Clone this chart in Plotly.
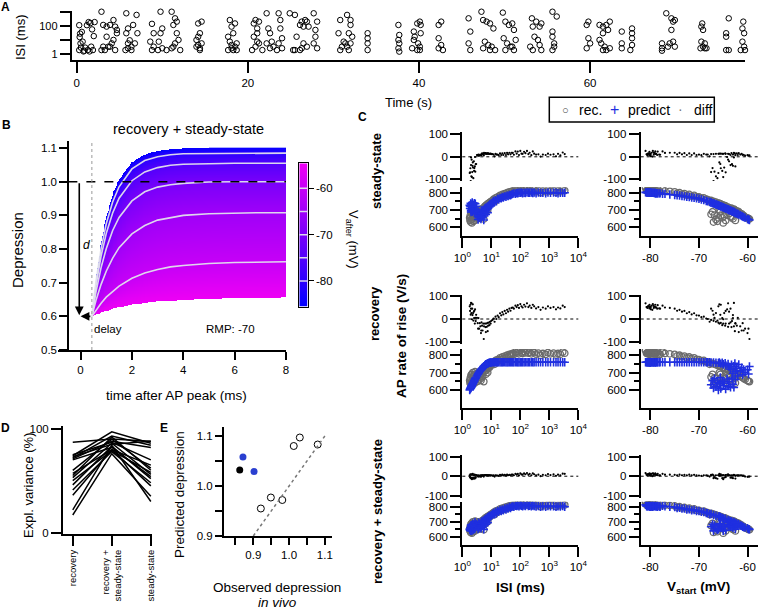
import numpy as np
import plotly.graph_objects as go

# ======================= DATA =======================
# Panel A: spike times (s) and preceding inter-spike interval (ms)
a_time_s = [
    0.1, 0.3, 0.4, 0.35, 0.45, 0.5, 0.3, 0.8, 1.0, 1.2, 1.4, 1.6, 1.8, 2.0, 2.1, 1.9, 1.7, 1.3, 0.7, 0.9, 1.5, 0.6,
    2.9, 3.1, 3.5, 3.9, 4.3, 4.5, 4.7, 4.7, 4.3, 4.1, 3.7, 3.3, 2.9, 3.5, 3.9, 4.5, 3.1,
    5.8, 6.0, 5.8, 6.2, 6.0, 6.4, 6.6, 7.0, 6.8, 7.1, 6.0, 6.4, 5.7,
    8.5, 8.8, 9.0, 8.6, 9.0, 8.8, 9.8, 10.0, 9.8, 9.6, 10.0, 11.1, 11.3, 11.5, 11.7, 11.7, 11.5, 11.9, 11.3, 12.1, 11.1, 10.5, 9.5,
    13.9, 14.2, 14.4, 14.0, 14.2, 14.4, 14.6, 14.4, 14.0, 14.6, 14.2,
    17.7, 17.9, 18.1, 18.3, 17.7, 17.9, 18.1, 18.5, 18.3, 17.7, 18.7, 18.5, 18.1, 18.7,
    20.3, 20.7, 20.9, 21.1, 21.3, 20.7, 21.1, 20.9, 21.3, 20.5, 21.7, 21.1,
    22.2, 22.4, 22.6, 22.2, 22.6, 23.6, 23.8, 23.8, 24.0, 23.6, 24.0, 23.4, 22.8, 23.0,
    24.9, 25.5, 25.7, 25.5, 26.1, 26.3, 26.5, 26.7, 26.9, 27.1, 26.5, 26.3, 26.1, 26.9, 27.7, 27.9, 28.1, 27.9, 27.7, 28.1, 25.3,
    30.4, 30.6, 30.8, 31.2, 31.0, 31.6, 32.0, 32.0, 31.8, 32.2, 31.4, 31.8, 30.8, 31.6, 32.0,
    34.0, 34.0, 34.0, 34.0, 34.0,
    37.6, 37.6, 37.7, 37.6, 37.7, 37.6, 37.7,
    39.2, 39.4, 39.8, 40.1, 40.2, 39.5, 39.9, 40.1, 39.2, 40.1, 39.8, 40.2, 39.4,
    42.3, 42.3, 42.6, 42.3, 42.6, 42.3, 42.8,
    45.5, 45.8, 46.0, 45.8, 46.0,
    47.3, 47.5, 47.9, 48.3, 48.7, 47.7, 48.1, 48.5, 48.9, 48.3, 47.5,
    49.8, 50.1, 50.5, 50.9, 51.1, 49.9, 50.3, 50.7, 50.1, 51.1, 51.3, 50.9,
    52.9, 53.2, 53.3, 53.7, 54.1, 54.3, 53.0, 53.3, 53.9, 54.1, 54.3, 53.5,
    55.6, 56.1, 55.6, 55.6, 55.8, 55.6, 55.8,
    58.3, 59.6, 59.8, 59.6, 59.8, 60.0, 59.6, 61.1,
    61.1, 61.5, 61.9, 62.1, 61.5, 61.1, 61.3, 61.7, 61.9, 62.3, 61.5, 62.3,
    63.7, 63.7, 63.7, 63.7, 64.9, 64.9, 64.9, 64.9, 64.9, 64.7,
    68.4, 68.9, 69.5, 69.7, 69.9, 69.5, 68.4, 68.4, 68.4, 69.3, 69.7, 69.9, 69.1,
    72.9, 73.1, 73.0, 73.2, 73.0, 73.2, 73.4, 72.9, 73.6, 73.4,
    75.8, 76.2, 75.9, 75.9, 75.9, 76.2,
    77.7, 77.9, 77.8, 78.0, 77.8, 78.0, 77.6, 78.1,
]
a_isi_ms = [
    3300, 120, 30, 17, 6, 3, 2, 1.6, 3, 120, 200, 170, 60, 20, 200, 2, 3.5, 2, 8, 1.8, 1.6, 40,
    1100, 125, 95, 125, 280, 95, 55, 32, 10.6, 6, 3.5, 2, 2, 18, 3.5, 2, 3.5,
    850, 70, 32, 10, 2.7, 3.5, 125, 650, 6, 32, 6, 2, 2,
    1500, 150, 32, 8, 3.5, 2, 1100, 70, 32, 8, 2.7, 1100, 125, 370, 215, 32, 6, 10.6, 3.5, 2, 2.7, 2, 2,
    1900, 160, 32, 10.6, 4.6, 2.7, 215, 2, 3.5, 6, 18,
    3300, 280, 95, 32, 18, 8, 4.6, 3.5, 2, 2, 6, 160, 2.7, 2,
    1900, 160, 280, 70, 215, 18, 8, 3.5, 6, 2, 2, 32,
    850, 70, 32, 6, 2.7, 850, 280, 70, 14, 6, 2.7, 2, 8, 3.5,
    850, 650, 18, 2, 125, 215, 95, 280, 215, 95, 6, 2.7, 2, 3.5, 850, 55, 215, 18, 6, 2.7, 2,
    2500, 32, 280, 8, 3.5, 3.5, 280, 125, 32, 18, 6, 2, 2, 650, 6,
    1900, 32, 14, 6, 2,
    3500, 125, 24, 10.6, 6, 2.7, 1.55,
    1500, 42, 160, 215, 125, 18, 6, 3.5, 2.7, 2, 2, 32, 10.6,
    2200, 125, 215, 14, 4.6, 2.7, 2,
    3000, 370, 42, 6, 2,
    1100, 280, 215, 160, 70, 8, 4.6, 3.5, 2, 2, 2.7,
    950, 215, 125, 160, 55, 14, 6, 3.5, 2, 2, 10.6, 3.5,
    1900, 370, 95, 215, 95, 160, 3.5, 2, 10.6, 4.6, 2, 18,
    1100, 500, 42, 18, 6, 2, 3.5,
    2500, 1500, 215, 125, 14, 6, 2.7, 1500,
    125, 95, 125, 55, 32, 10.6, 6, 3.5, 2, 2.7, 2, 215,
    1500, 42, 6, 2.7, 1500, 70, 32, 14, 4.6, 2,
    3500, 850, 370, 215, 280, 55, 6, 2.7, 1.8, 6, 8, 3.5, 3.5,
    3300, 160, 95, 55, 8, 3.5, 2.7, 2.7, 2.7, 6,
    2500, 370, 32, 18, 2, 2,
    1500, 215, 70, 32, 8, 3.5, 2, 2,
]

# Panel B: depression after an AP for several V_after levels (model curves)
b_time_ms = [0.44, 0.6, 0.8, 1.0, 1.25, 1.5, 2.0, 2.5, 3.0, 3.5, 4.0, 5.0, 6.0, 7.0, 8.0]
b_vafter_mv = [-85, -80, -75, -70, -65, -60, -55]
b_depr_m85 = [0.6, 0.712, 0.818, 0.895, 0.962, 1.007, 1.058, 1.081, 1.092, 1.096, 1.098, 1.1, 1.1, 1.1, 1.1]
b_depr_m80 = [0.6, 0.703, 0.802, 0.875, 0.940, 0.985, 1.038, 1.063, 1.074, 1.080, 1.083, 1.084, 1.085, 1.085, 1.085]
b_depr_m75 = [0.6, 0.691, 0.779, 0.846, 0.907, 0.951, 1.003, 1.029, 1.042, 1.049, 1.052, 1.054, 1.055, 1.055, 1.055]
b_depr_m70 = [0.6, 0.672, 0.745, 0.801, 0.855, 0.894, 0.943, 0.970, 0.984, 0.991, 0.995, 0.999, 1.0, 1.0, 1.0]
b_depr_m65 = [0.6, 0.647, 0.695, 0.734, 0.773, 0.804, 0.845, 0.870, 0.886, 0.894, 0.900, 0.905, 0.907, 0.908, 0.908]
b_depr_m60 = [0.6, 0.619, 0.639, 0.657, 0.675, 0.690, 0.713, 0.729, 0.739, 0.747, 0.751, 0.757, 0.760, 0.761, 0.762]
b_depr_m55 = [0.6, 0.605, 0.611, 0.616, 0.622, 0.627, 0.634, 0.640, 0.644, 0.647, 0.649, 0.652, 0.653, 0.654, 0.655]
b_white_levels = [-80, -75, -70, -65, -60]
b_delay_ms = 0.44
b_colorbar_range = [-85.55, -54.6]

# Panel C: recorded AP rate of rise and model predictions (V/s)
c_isi_ms = [
    1.8, 1.85, 1.9, 1.95, 2.0, 2.05, 2.1, 2.15, 2.2, 2.25, 2.3, 2.35, 2.4, 2.5, 2.55, 2.6, 2.7, 2.75, 2.8, 2.9, 3.0, 2.0,
    3.2, 3.4, 3.6, 3.8, 4.0, 4.2, 4.4, 4.6, 4.8, 5.0, 5.3, 5.6, 6.0, 6.3, 6.6, 7.0, 7.4, 7.8, 8.2, 8.6, 9.0, 9.5, 10.0, 3.5, 4.5, 5.5, 6.5, 7.5,
    11, 12, 13, 14, 15, 16.5, 18, 20, 22, 24, 26, 29, 32, 35, 38, 42, 46, 50,
    55, 60, 68, 75, 82, 90, 100, 110, 120, 135, 150, 170, 190, 210, 240, 270, 300, 350, 420, 500, 600, 750, 900, 1100, 1400, 1700, 2000, 2400, 2900, 3400,
]
c_vstart_mv = [
    -66.0, -64.5, -65.5, -67.0, -63.5, -66.5, -64.0, -65.0, -67.5, -63.0, -65.8, -64.8, -66.2, -63.8, -65.2, -67.2, -62.5, -64.2, -66.8, -63.2, -65.6, -62.8,
    -62.0, -61.0, -63.0, -60.5, -62.5, -61.5, -60.0, -63.5, -62.2, -61.2, -63.8, -62.8, -64.5, -63.3, -65.0, -64.0, -65.5, -64.6, -66.0, -65.2, -66.5, -65.8, -67.0, -59.8, -60.8, -59.6, -61.8, -62.6,
    -67.5, -68.5, -67.8, -69.0, -68.2, -70.0, -69.5, -71.0, -70.5, -72.0, -71.5, -73.0, -72.5, -74.0, -73.5, -75.0, -74.5, -76.0,
    -77.0, -78.0, -77.5, -79.0, -78.5, -80.0, -79.5, -80.5, -78.8, -80.2, -79.2, -81.0, -80.0, -79.8, -80.6, -79.0, -80.3, -78.2, -80.8, -79.6, -80.1, -78.6, -80.4, -79.3, -80.7, -79.9, -78.9, -80.2, -79.4, -80.0,
]
c_rec = [
    655, 640, 670, 630, 660, 645, 690, 625, 675, 650, 700, 665, 635, 680, 655, 690, 640, 705, 670, 660, 690, 685,
    685, 670, 700, 660, 690, 680, 655, 705, 695, 678, 712, 705, 722, 710, 728, 716, 735, 725, 740, 730, 745, 738, 750, 650, 668, 648, 690, 700,
    755, 762, 748, 770, 760, 775, 768, 785, 776, 790, 780, 795, 785, 800, 792, 805, 796, 808,
    810, 805, 818, 812, 820, 808, 825, 815, 810, 822, 814, 828, 812, 818, 808, 822, 815, 806, 812, 800, 810, 805, 815, 808, 812, 802, 810, 806, 818, 812,
]
c_pred_ss = [
    727, 709, 721, 738, 697, 732, 703, 715, 743, 690, 725, 713, 730, 700, 718, 740, 683, 706, 736, 693, 722, 688,
    677, 662, 690, 655, 683, 670, 648, 697, 680, 665, 700, 688, 709, 694, 715, 703, 721, 710, 727, 717, 732, 724, 738, 645, 659, 642, 674, 685,
    743, 752, 746, 757, 750, 765, 761, 770, 768, 775, 772, 779, 777, 783, 781, 787, 785, 790,
    793, 796, 794, 798, 797, 800, 799, 801, 797, 800, 798, 802, 800, 800, 801, 798, 801, 796, 801, 799, 800, 797, 801, 799, 801, 800, 797, 800, 799, 800,
]
c_pred_rec = [
    600, 605, 608, 611, 615, 619, 622, 626, 630, 633, 636, 639, 642, 648, 651, 654, 660, 663, 665, 669, 672, 615,
    680, 688, 696, 702, 708, 712, 716, 720, 724, 728, 732, 737, 742, 745, 748, 750, 752, 754, 756, 757, 757, 758, 758, 692, 718, 735, 747, 753,
    759, 760, 760, 760, 760, 760, 760, 760, 760, 760, 760, 760, 760, 760, 760, 760, 760, 760,
    760, 760, 760, 760, 760, 760, 760, 760, 760, 760, 760, 760, 760, 760, 760, 760, 760, 760, 760, 760, 760, 760, 760, 760, 760, 760, 760, 760, 760, 760,
]
c_pred_both = [
    650, 645, 660, 640, 668, 655, 680, 640, 668, 660, 688, 672, 648, 675, 665, 682, 652, 698, 676, 668, 684, 678,
    680, 668, 695, 662, 688, 676, 658, 702, 690, 674, 708, 700, 716, 705, 722, 712, 730, 720, 735, 726, 740, 735, 745, 652, 665, 650, 685, 695,
    752, 758, 750, 765, 757, 772, 766, 778, 772, 782, 776, 788, 781, 792, 787, 798, 791, 800,
    802, 800, 806, 804, 808, 803, 810, 806, 802, 808, 804, 812, 805, 806, 803, 808, 805, 801, 804, 800, 803, 800, 804, 802, 803, 800, 802, 801, 805, 800,
]
c_row_names = ["steady-state", "recovery", "recovery + steady-state"]

# Panel D: explained variance (%) per cell for three models
d_models = ["recovery", "recovery +<br>steady-state", "steady-state"]
d_recovery = [87, 74, 72, 71, 73, 57, 55, 53, 46, 41, 36, 22, 17, 70, 60, 50, 75]
d_rec_ss = [90, 97, 93, 88, 85, 80, 92, 86, 83, 78, 80, 84, 76, 82, 90, 79, 87]
d_steady = [88, 86, 84, 82, 88, 65, 60, 56, 52, 48, 45, 30, 35, 54, 62, 58, 70]

# Panel E: observed vs predicted depression
e_obs_open = [0.921, 0.949, 0.981, 1.013, 1.030, 1.080]
e_pred_open = [0.955, 0.977, 0.972, 1.080, 1.097, 1.083]
e_obs_black = [0.862]
e_pred_black = [1.032]
e_obs_blue = [0.871, 0.902]
e_pred_blue = [1.058, 1.029]

# ======================= HELPERS =======================
W, H = 758, 610
FONT = "Liberation Sans, Arial, sans-serif"


def fx(px):
    return px / W


def fy(py):
    return 1 - py / H


BASE = dict(showgrid=False, zeroline=False, showline=True, linecolor="black", linewidth=2,
            ticks="outside", tickcolor="black", tickwidth=2, ticklen=8, automargin=False,
            tickfont=dict(size=11.5, color="black", family=FONT), layer="above traces")


def axis(**kw):
    d = dict(BASE)
    d.update(kw)
    return d


def ann(text, px, py, size=13, angle=0, bold=False, xanchor="center", yanchor="middle", color="black"):
    if bold:
        text = "<b>" + text + "</b>"
    return dict(text=text, x=fx(px), y=fy(py), xref="paper", yref="paper", showarrow=False,
                textangle=angle, font=dict(size=size, color=color, family=FONT),
                xanchor=xanchor, yanchor=yanchor)


fig = go.Figure()
layout = {}
shapes = []
annotations = []
GRAD = [[0, "rgb(0,0,255)"], [1, "rgb(240,0,245)"]]
BLUE = "#1f2fe0"

# ======================= PANEL A =======================
fig.add_trace(go.Scatter(x=a_time_s, y=a_isi_ms, mode="markers", cliponaxis=False,
                         marker=dict(symbol="circle-open", size=5.5, color="black", line=dict(width=1)),
                         xaxis="x", yaxis="y", showlegend=False))
layout["xaxis"] = axis(domain=[fx(71.7), fx(745)], range=[-0.58, 78.1], anchor="y",
                       tickvals=[0, 20, 40, 60], ticklen=11)
layout["yaxis"] = axis(domain=[fy(60.3), fy(11)], type="log", range=[-0.43, 3.093], anchor="x",
                       tickvals=[1, 100], ticktext=["1", "100"], ticklen=10,
                       minor=dict(tickvals=[10, 1000], ticklen=10, tickwidth=2, ticks="outside", tickcolor="black"),
                       tickfont=dict(size=11, color="black", family=FONT))
annotations += [ann("ISI (ms)", 20, 37, size=13, angle=-90), ann("Time (s)", 408, 102, size=13)]

# ======================= PANEL B =======================
curves = np.array([b_depr_m85, b_depr_m80, b_depr_m75, b_depr_m70, b_depr_m65, b_depr_m60, b_depr_m55])
levels = np.array(b_vafter_mv, dtype=float)
t_grid = np.linspace(b_delay_ms, b_time_ms[-1], 240)
y_grid = np.linspace(0.6, 1.1, 220)
Z = np.full((len(y_grid), len(t_grid)), np.nan)
for j, t in enumerate(t_grid):
    d = np.array([np.interp(t, b_time_ms, c) for c in curves])
    lo, hi = d[-1], d[0]
    if hi - lo < 1e-4:
        continue
    m = (y_grid >= lo) & (y_grid <= hi)
    Z[m, j] = np.interp(y_grid[m], d[::-1], levels[::-1])
zl = [[None if np.isnan(v) else round(float(v), 2) for v in row] for row in Z]
fig.add_trace(go.Heatmap(x=t_grid.tolist(), y=y_grid.tolist(), z=zl, colorscale=GRAD,
                         zmin=b_colorbar_range[0], zmax=b_colorbar_range[1], showscale=False,
                         xaxis="x2", yaxis="y2", hoverinfo="skip"))
curve_by_level = dict(zip(b_vafter_mv, curves))
for lvl in b_white_levels:
    fig.add_trace(go.Scatter(x=b_time_ms, y=list(curve_by_level[lvl]), mode="lines",
                             line=dict(color="rgba(226,226,236,0.95)", width=1.6),
                             xaxis="x2", yaxis="y2", showlegend=False, hoverinfo="skip"))
layout["xaxis2"] = axis(domain=[fx(57.7), fx(286)], range=[-0.89, 8.0], anchor="y2",
                        tickvals=[0, 2, 4, 6, 8], ticklen=8)
layout["yaxis2"] = axis(domain=[fy(350), fy(141)], range=[0.5, 1.121], anchor="free", position=fx(68.3),
                        tickvals=[0.5, 0.6, 0.7, 0.8, 0.9, 1.0, 1.1], tickformat=".1f", ticklen=8)
shapes.append(dict(type="line", xref="x2", yref="y2", x0=-0.475, x1=8.0, y0=1.0, y1=1.0,
                   line=dict(color="black", width=1.6, dash="dash")))
shapes.append(dict(type="line", xref="x2", yref="y2", x0=b_delay_ms, x1=b_delay_ms, y0=0.5, y1=1.121,
                   line=dict(color="#9a9a9a", width=1, dash="dot")))
annotations.append(dict(x=-0.05, y=0.603, ax=-0.05, ay=1.0, xref="x2", yref="y2", axref="x2", ayref="y2",
                        showarrow=True, arrowhead=2, arrowsize=1.1, arrowwidth=1.6, arrowcolor="black",
                        text="", standoff=0, startstandoff=0))
annotations.append(dict(x=0.0, y=0.6, ax=b_delay_ms, ay=0.6, xref="x2", yref="y2", axref="x2", ayref="y2",
                        showarrow=True, arrowhead=2, arrowsize=1.1, arrowwidth=1.6, arrowcolor="black",
                        text="", standoff=0, startstandoff=0))
annotations.append(dict(x=0.22, y=0.812, xref="x2", yref="y2", showarrow=False, text="<i>d</i>",
                        font=dict(size=12, family=FONT, color="black")))
annotations.append(dict(x=0.46, y=0.562, xref="x2", yref="y2", showarrow=False, text="delay",
                        xanchor="left", font=dict(size=11.5, family=FONT, color="black")))
annotations.append(dict(x=5.83, y=0.562, xref="x2", yref="y2", showarrow=False, text="RMP: -70",
                        font=dict(size=11.5, family=FONT, color="black")))
annotations += [ann("recovery + steady-state", 188, 129, size=14.5),
                ann("Depression", 17, 250, size=15, angle=-90),
                ann("time after AP peak (ms)", 176, 395, size=13.5),
                ann("V<sub>after</sub> (mV)", 353, 239, size=13, angle=90)]

# colour bar (as its own small axis)
fig.add_trace(go.Heatmap(x=[0, 1], y=b_colorbar_range,
                         z=[[b_colorbar_range[0], b_colorbar_range[0]], [b_colorbar_range[1], b_colorbar_range[1]]],
                         zsmooth="best", colorscale=GRAD, zmin=b_colorbar_range[0], zmax=b_colorbar_range[1],
                         showscale=False, xaxis="x3", yaxis="y3", hoverinfo="skip"))
for lvl in b_white_levels:
    shapes.append(dict(type="line", xref="x3 domain", yref="y3", x0=0, x1=1, y0=lvl, y1=lvl,
                       line=dict(color="rgba(226,226,236,0.95)", width=1.5)))
layout["xaxis3"] = dict(domain=[fx(299.3), fx(307.7)], range=[-0.5, 1.5], anchor="y3", showgrid=False,
                        zeroline=False, showticklabels=False, ticks="", showline=True, mirror=True,
                        linecolor="black", linewidth=1, automargin=False)
layout["yaxis3"] = axis(domain=[fy(306.7), fy(163.3)], range=b_colorbar_range, side="right", anchor="x3",
                        mirror=True, linewidth=1, tickwidth=1, ticklen=5, tickvals=[-80, -70, -60],
                        ticktext=["-80", "-70", "-60"], tickfont=dict(size=11.5, color="black", family=FONT))

# ======================= PANEL C =======================
rec = np.array(c_rec, dtype=float)
preds = [np.array(c_pred_ss, float), np.array(c_pred_rec, float), np.array(c_pred_both, float)]
cols = [dict(dom=(462.3, 578.3), x=c_isi_ms, type="log", range=[0, 4],
             tickvals=[1, 10, 100, 1000, 10000],
             ticktext=["10<sup>0</sup>", "10<sup>1</sup>", "10<sup>2</sup>", "10<sup>3</sup>", "10<sup>4</sup>"]),
        dict(dom=(640.7, 757.7), x=c_vstart_mv, type="linear", range=[-82.0, -57.9],
             tickvals=[-80, -70, -60], ticktext=["-80", "-70", "-60"])]
rows = [dict(diff=(132.3, 181), drange=[-107.6, 108.9], low=(187.3, 236), lrange=[549.7, 831.2]),
        dict(diff=(294.7, 344), drange=[-108.7, 105.7], low=(349, 408), lrange=[496, 836]),
        dict(diff=(455.3, 497.7), drange=[-110, 107], low=(501.7, 545), lrange=[547, 833])]
for r, rw in enumerate(rows):
    pred = preds[r]
    diff = rec - pred
    for c, cl in enumerate(cols):
        xi = 4 + r * 2 + c
        yd = 4 + (r * 2 + c) * 2
        yl = yd + 1
        xs = cl["x"]
        fig.add_trace(go.Scatter(x=xs, y=rec.tolist(), mode="markers", name="rec.",
                                 marker=dict(symbol="circle-open", size=6.5, color="#6b6b6b", line=dict(width=1.3)),
                                 xaxis="x%d" % xi, yaxis="y%d" % yl, showlegend=False))
        fig.add_trace(go.Scatter(x=xs, y=pred.tolist(), mode="markers", name="predict",
                                 marker=dict(symbol="cross-thin-open", size=6, color=BLUE, line=dict(width=1.6, color=BLUE)),
                                 xaxis="x%d" % xi, yaxis="y%d" % yl, showlegend=False))
        fig.add_trace(go.Scatter(x=xs, y=diff.tolist(), mode="markers", name="diff",
                                 marker=dict(symbol="circle", size=2.2, color="black"),
                                 xaxis="x%d" % xi, yaxis="y%d" % yd, showlegend=False))
        layout["xaxis%d" % xi] = axis(domain=[fx(cl["dom"][0]), fx(cl["dom"][1])], type=cl["type"],
                                      range=cl["range"], anchor="y%d" % yl, tickvals=cl["tickvals"],
                                      ticktext=cl["ticktext"], ticklen=10)
        layout["yaxis%d" % yd] = axis(domain=[fy(rw["diff"][1]), fy(rw["diff"][0])], range=rw["drange"],
                                      anchor="x%d" % xi, tickvals=[-100, 0, 100],
                                      ticktext=["-100", "0", "100"], ticklen=10)
        layout["yaxis%d" % yl] = axis(domain=[fy(rw["low"][1]), fy(rw["low"][0])], range=rw["lrange"],
                                      anchor="x%d" % xi, tickvals=[600, 700, 800], ticklen=10,
                                      minor=dict(tickvals=[650, 750], ticklen=5, tickwidth=1.5,
                                                 ticks="outside", tickcolor="black"))
        shapes.append(dict(type="line", xref="x%d domain" % xi, yref="y%d" % yd, x0=0, x1=1, y0=0, y1=0,
                           line=dict(color="black", width=1, dash="dot")))

annotations += [ann("steady-state", 376, 171, size=13, angle=-90, bold=True),
                ann("recovery", 374, 314, size=13, angle=-90, bold=True),
                ann("recovery + steady-state", 377, 512, size=13, angle=-90, bold=True),
                ann("AP rate of rise (V/s)", 401, 336, size=13.5, angle=-90, bold=True),
                ann("ISI (ms)", 520, 587, size=13.5, bold=True),
                ann("V<sub>start</sub> (mV)", 698, 587, size=13.5, bold=True)]

# manual legend box
shapes.append(dict(type="rect", xref="paper", yref="paper", x0=fx(549.3), x1=fx(714.3), y0=fy(122), y1=fy(97.3),
                   line=dict(color="black", width=1.5), fillcolor="white"))
annotations += [ann("○", 565.7, 110, size=11, color="#444444"),
                ann("rec.", 576.7, 110, size=14, xanchor="left"),
                ann("+", 614.3, 109, size=16, color=BLUE),
                ann("predict", 626, 110, size=14, xanchor="left"),
                ann("·", 680.7, 109, size=14, color="#777777"),
                ann("diff", 691.7, 110, size=14, xanchor="left")]

# ======================= PANEL D =======================
for a, b, c in zip(d_recovery, d_rec_ss, d_steady):
    fig.add_trace(go.Scatter(x=d_models, y=[a, b, c], mode="lines", line=dict(color="black", width=1.5),
                             xaxis="x10", yaxis="y16", showlegend=False))
layout["xaxis10"] = axis(domain=[fx(63), fx(152)], type="category", range=[-0.25, 2.03], anchor="y16",
                         tickangle=-90, ticklen=10, tickfont=dict(size=9.5, color="black", family=FONT))
layout["yaxis16"] = axis(domain=[fy(534), fy(426)], range=[-1.25, 102.6], anchor="x10",
                         tickvals=[0, 100], ticklen=10)
annotations.append(ann("Expl. variance (%)", 28, 486, size=13, angle=-90))

# ======================= PANEL E =======================
fig.add_trace(go.Scatter(x=e_obs_open, y=e_pred_open, mode="markers",
                         marker=dict(symbol="circle-open", size=7, color="black", line=dict(width=1)),
                         xaxis="x11", yaxis="y17", showlegend=False))
fig.add_trace(go.Scatter(x=e_obs_black, y=e_pred_black, mode="markers",
                         marker=dict(symbol="circle", size=7, color="black"),
                         xaxis="x11", yaxis="y17", showlegend=False))
fig.add_trace(go.Scatter(x=e_obs_blue, y=e_pred_blue, mode="markers",
                         marker=dict(symbol="circle", size=7, color="#2a3fd0"),
                         xaxis="x11", yaxis="y17", showlegend=False))
shapes.append(dict(type="line", xref="x11", yref="y17", x0=0.9, y0=0.9, x1=1.105, y1=1.105,
                   line=dict(color="#777777", width=1.5, dash="dot")))
MINOR_E = dict(ticklen=7, tickwidth=2, ticks="outside", tickcolor="black")
layout["xaxis11"] = axis(domain=[fx(224), fx(332)], range=[0.818, 1.12], anchor="y17",
                         tickvals=[0.9, 1.0, 1.1], ticktext=["0.9", "1.0", "1.1"], ticklen=7,
                         minor=dict(tickvals=[0.85, 0.95, 1.05], **MINOR_E))
layout["yaxis17"] = axis(domain=[fy(536), fy(426.7)], range=[0.9, 1.1186], anchor="x11",
                         tickvals=[0.9, 1.0, 1.1], ticktext=["0.9", "1.0", "1.1"], ticklen=7,
                         minor=dict(tickvals=[0.95, 1.05], **MINOR_E))
annotations += [ann("Predicted depression", 179, 495, size=13.5, angle=-90),
                ann("Observed depression", 277, 587, size=13.5),
                ann("<i>in vivo</i>", 277, 602, size=13.5)]

# panel letters
annotations += [ann("A", 5, 7, size=12, bold=True), ann("B", 6, 125, size=12, bold=True),
                ann("C", 362, 117, size=12, bold=True), ann("D", 5, 428, size=12, bold=True),
                ann("E", 164, 428, size=12, bold=True)]

fig.update_layout(width=W, height=H, autosize=False,
                  margin=dict(l=0, r=0, t=0, b=0, pad=0, autoexpand=False),
                  paper_bgcolor="white", plot_bgcolor="white", showlegend=False,
                  font=dict(family=FONT, color="black"),
                  shapes=shapes, annotations=annotations, **layout)
fig.write_html("out.html", config={"responsive": False, "displayModeBar": False},
               post_script="document.body.style.margin='0';document.body.style.padding='0';"
                           "document.body.style.overflow='hidden';")
